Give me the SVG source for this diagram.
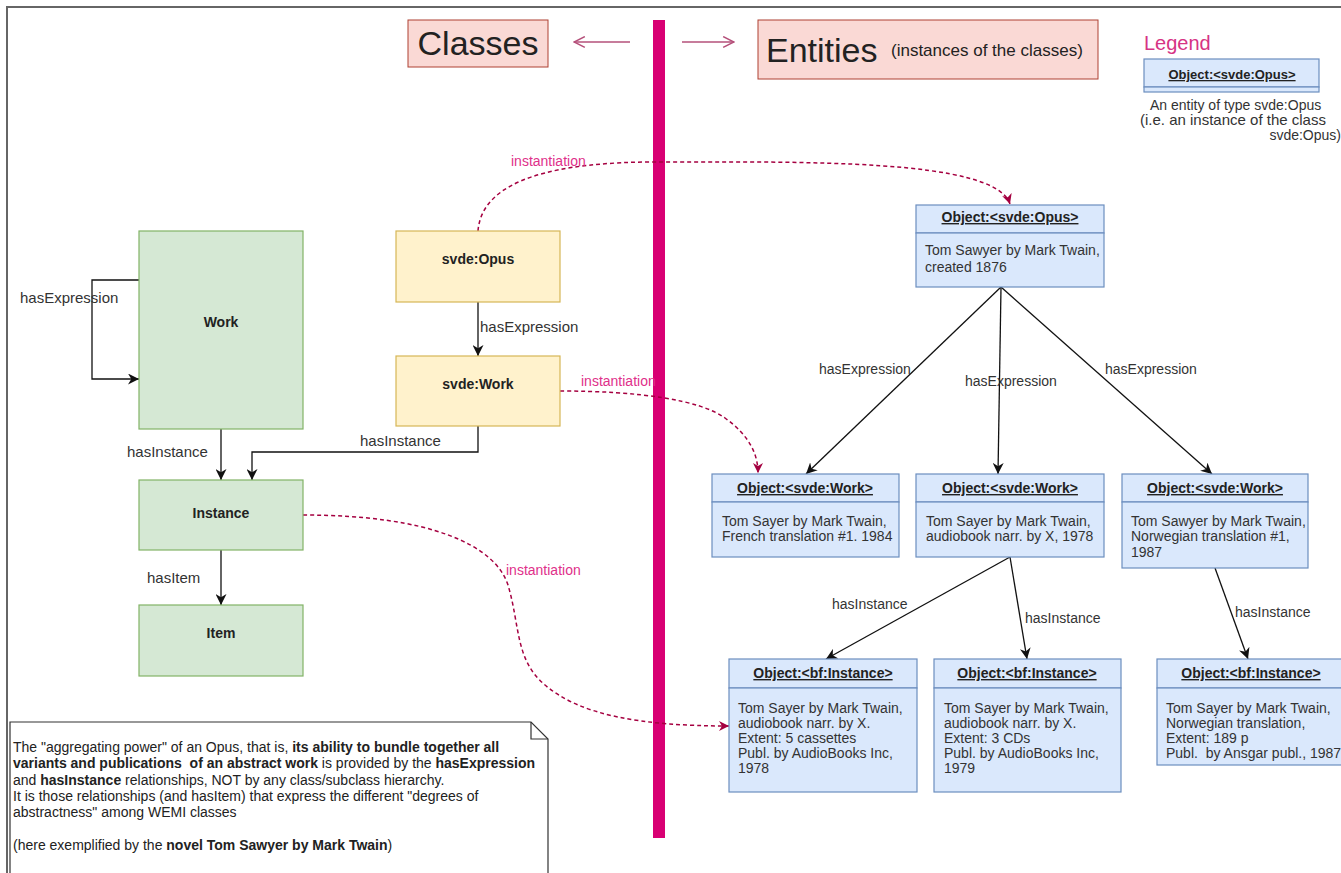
<svg xmlns="http://www.w3.org/2000/svg" width="1341" height="873" viewBox="0 0 1341 873">
<defs>
<style>
text{font-family:"Liberation Sans",Arial,sans-serif;fill:#222}
.hdr{fill:#fad9d5;stroke:#ae4132;stroke-width:1}
.grn{fill:#d5e8d4;stroke:#82b366;stroke-width:1.2}
.yel{fill:#fff2cc;stroke:#d6b656;stroke-width:1.2}
.blu{fill:#dae8fc;stroke:#6c8ebf;stroke-width:1.2}
.cls{font-size:14px;font-weight:bold;text-anchor:middle}
.oh{font-size:14px;font-weight:bold;text-anchor:middle;text-decoration:underline}
.ob{font-size:14px;fill:#333}
.el{font-size:15px;fill:#333}
.er{font-size:14px;fill:#333}
.inst{font-size:14px;fill:#e0308a}
.edge{fill:none;stroke:#111;stroke-width:1.3}
.dash{fill:none;stroke:#a50040;stroke-width:1.5;stroke-dasharray:4 3}
.harr{fill:none;stroke:#b5507a;stroke-width:1.4}
.note{font-size:14px;fill:#222}
</style>
<marker id="ab" viewBox="0 0 10 10" refX="10" refY="5" markerWidth="11" markerHeight="11" markerUnits="userSpaceOnUse" orient="auto">
<path d="M0,0 L10,5 L0,10 L3,5 Z" fill="#111"/>
</marker>
<marker id="ad" viewBox="0 0 10 10" refX="10" refY="5" markerWidth="10" markerHeight="10" markerUnits="userSpaceOnUse" orient="auto">
<path d="M0,0 L10,5 L0,10 L3,5 Z" fill="#a50040"/>
</marker>
<marker id="ao" viewBox="0 0 12 12" refX="11" refY="6" markerWidth="13" markerHeight="13" markerUnits="userSpaceOnUse" orient="auto">
<path d="M1,1 L11,6 L1,11" fill="none" stroke="#b5507a" stroke-width="1.4"/>
</marker>
</defs>
<rect width="1341" height="873" fill="#fff"/>
<path d="M7,873 V7 H1341" fill="none" stroke="#666" stroke-width="2"/>

<g id="header">
<rect class="hdr" x="408" y="20" width="140" height="47"/>
<text x="478" y="55" font-size="34" text-anchor="middle">Classes</text>
<rect class="hdr" x="758" y="20" width="340" height="59"/>
<text x="766" y="62" font-size="34">Entities</text>
<text x="891" y="56" font-size="17">(instances of the classes)</text>
<line class="harr" x1="630" y1="42" x2="574" y2="42" marker-end="url(#ao)"/>
<line class="harr" x1="682" y1="42" x2="734" y2="42" marker-end="url(#ao)"/>
<rect x="653" y="20" width="12" height="818" fill="#d80073"/>
</g>

<g id="legend">
<text x="1144" y="50" font-size="20" style="fill:#d63384">Legend</text>
<rect class="blu" x="1144" y="59" width="175" height="28"/>
<rect class="blu" x="1144" y="87" width="175" height="5"/>
<text class="oh" x="1232" y="79" style="font-size:13px">Object:&lt;svde:Opus&gt;</text>
<text x="1150" y="110" font-size="14" style="fill:#333">An entity of type svde:Opus</text>
<text x="1140" y="125" font-size="15" style="fill:#333">(i.e. an instance of the class</text>
<text x="1341" y="140" font-size="14" text-anchor="end" style="fill:#333">svde:Opus)</text>
</g>

<g id="connectors">
<path class="edge" d="M139,280 H92 V379 H139" marker-end="url(#ab)"/>
<path class="edge" d="M221,429 V480" marker-end="url(#ab)"/>
<path class="edge" d="M478,426 V452 H252 V480" marker-end="url(#ab)"/>
<path class="edge" d="M478,302 V356" marker-end="url(#ab)"/>
<path class="edge" d="M221,550 V605" marker-end="url(#ab)"/>
<path class="edge" d="M1001,287 L806,474" marker-end="url(#ab)"/>
<path class="edge" d="M1001,287 L998,474" marker-end="url(#ab)"/>
<path class="edge" d="M1001,287 L1212,474" marker-end="url(#ab)"/>
<path class="edge" d="M1010,557 L826,659" marker-end="url(#ab)"/>
<path class="edge" d="M1010,557 L1027,659" marker-end="url(#ab)"/>
<path class="edge" d="M1215,568 L1248,659" marker-end="url(#ab)"/>
<path class="dash" d="M478,231 C482,178 560,162 655,162 C800,162 995,158 1010,204" marker-end="url(#ad)"/>
<path class="dash" d="M560,391 C640,391 700,400 725,418 C750,436 758,455 758,473" marker-end="url(#ad)"/>
<path class="dash" d="M303,515 C430,515 495,545 508,585 C520,625 515,660 545,685 C580,715 640,726 729,726" marker-end="url(#ad)"/>
<text class="el" x="20" y="303">hasExpression</text>
<text class="el" x="127" y="457">hasInstance</text>
<text class="el" x="360" y="446">hasInstance</text>
<text class="el" x="480" y="332">hasExpression</text>
<text class="el" x="147" y="583">hasItem</text>
<text class="er" x="819" y="374">hasExpression</text>
<text class="er" x="965" y="386">hasExpression</text>
<text class="er" x="1105" y="374">hasExpression</text>
<text class="er" x="832" y="609">hasInstance</text>
<text class="er" x="1025" y="623">hasInstance</text>
<text class="er" x="1235" y="617">hasInstance</text>
<text class="inst" x="511" y="166">instantiation</text>
<text class="inst" x="581" y="386">instantiation</text>
<text class="inst" x="506" y="575">instantiation</text>
</g>

<g id="work"><rect class="grn" x="139" y="231" width="164" height="198"/><text class="cls" x="221" y="327">Work</text></g>
<g id="instance"><rect class="grn" x="139" y="480" width="164" height="70"/><text class="cls" x="221" y="518">Instance</text></g>
<g id="item"><rect class="grn" x="139" y="605" width="164" height="71"/><text class="cls" x="221" y="638">Item</text></g>
<g id="svde-opus"><rect class="yel" x="396" y="231" width="164" height="71"/><text class="cls" x="478" y="264">svde:Opus</text></g>
<g id="svde-work"><rect class="yel" x="396" y="356" width="164" height="70"/><text class="cls" x="478" y="389">svde:Work</text></g>

<g id="obj-opus">
<rect class="blu" x="916" y="205" width="188" height="28"/><rect class="blu" x="916" y="233" width="188" height="54"/>
<text class="oh" x="1010" y="222">Object:&lt;svde:Opus&gt;</text>
<text class="ob" x="925" y="255">Tom Sawyer by Mark Twain,</text>
<text class="ob" x="925" y="272">created 1876</text>
</g>
<g id="obj-work1">
<rect class="blu" x="712" y="474" width="187" height="28"/><rect class="blu" x="712" y="502" width="187" height="55"/>
<text class="oh" x="805" y="493">Object:&lt;svde:Work&gt;</text>
<text class="ob" x="722" y="526">Tom Sayer by Mark Twain,</text>
<text class="ob" x="722" y="541">French translation #1. 1984</text>
</g>
<g id="obj-work2">
<rect class="blu" x="916" y="474" width="188" height="28"/><rect class="blu" x="916" y="502" width="188" height="55"/>
<text class="oh" x="1010" y="493">Object:&lt;svde:Work&gt;</text>
<text class="ob" x="926" y="526">Tom Sayer by Mark Twain,</text>
<text class="ob" x="926" y="541">audiobook narr. by X, 1978</text>
</g>
<g id="obj-work3">
<rect class="blu" x="1122" y="474" width="186" height="28"/><rect class="blu" x="1122" y="502" width="186" height="66"/>
<text class="oh" x="1215" y="493">Object:&lt;svde:Work&gt;</text>
<text class="ob" x="1131" y="526">Tom Sawyer by Mark Twain,</text>
<text class="ob" x="1131" y="541">Norwegian translation #1,</text>
<text class="ob" x="1131" y="557">1987</text>
</g>
<g id="obj-inst1">
<rect class="blu" x="729" y="659" width="188" height="29"/><rect class="blu" x="729" y="688" width="188" height="104"/>
<text class="oh" x="823" y="678">Object:&lt;bf:Instance&gt;</text>
<text class="ob" x="738" y="713">Tom Sayer by Mark Twain,</text>
<text class="ob" x="738" y="728">audiobook narr. by X.</text>
<text class="ob" x="738" y="743">Extent: 5 cassettes</text>
<text class="ob" x="738" y="758">Publ. by AudioBooks Inc,</text>
<text class="ob" x="738" y="773">1978</text>
</g>
<g id="obj-inst2">
<rect class="blu" x="934" y="659" width="187" height="29"/><rect class="blu" x="934" y="688" width="187" height="104"/>
<text class="oh" x="1027" y="678">Object:&lt;bf:Instance&gt;</text>
<text class="ob" x="944" y="713">Tom Sayer by Mark Twain,</text>
<text class="ob" x="944" y="728">audiobook narr. by X.</text>
<text class="ob" x="944" y="743">Extent: 3 CDs</text>
<text class="ob" x="944" y="758">Publ. by AudioBooks Inc,</text>
<text class="ob" x="944" y="773">1979</text>
</g>
<g id="obj-inst3">
<rect class="blu" x="1157" y="659" width="190" height="29"/><rect class="blu" x="1157" y="688" width="190" height="77"/>
<text class="oh" x="1251" y="678">Object:&lt;bf:Instance&gt;</text>
<text class="ob" x="1166" y="713">Tom Sayer by Mark Twain,</text>
<text class="ob" x="1166" y="728">Norwegian translation,</text>
<text class="ob" x="1166" y="743">Extent: 189 p</text>
<text class="ob" x="1166" y="758" xml:space="preserve">Publ.  by Ansgar publ., 1987</text>
</g>

<g id="note">
<path d="M10,873 V722 H531 L548,739 V873" fill="#fff" stroke="#333" stroke-width="1.2"/>
<path d="M531,722 V739 H548" fill="none" stroke="#333" stroke-width="1.2"/>
<text class="note" x="13" y="752" xml:space="preserve">The "aggregating power" of an Opus, that is, <tspan font-weight="bold">its ability to bundle together all</tspan></text>
<text class="note" x="13" y="768" xml:space="preserve"><tspan font-weight="bold">variants and publications  of an abstract work</tspan> is provided by the <tspan font-weight="bold">hasExpression</tspan></text>
<text class="note" x="13" y="785" xml:space="preserve">and <tspan font-weight="bold">hasInstance</tspan> relationships, NOT by any class/subclass hierarchy.</text>
<text class="note" x="13" y="801">It is those relationships (and hasItem) that express the different "degrees of</text>
<text class="note" x="13" y="817">abstractness" among WEMI classes</text>
<text class="note" x="13" y="850">(here exemplified by the <tspan font-weight="bold">novel Tom Sawyer by Mark Twain</tspan>)</text>
</g>
</svg>
